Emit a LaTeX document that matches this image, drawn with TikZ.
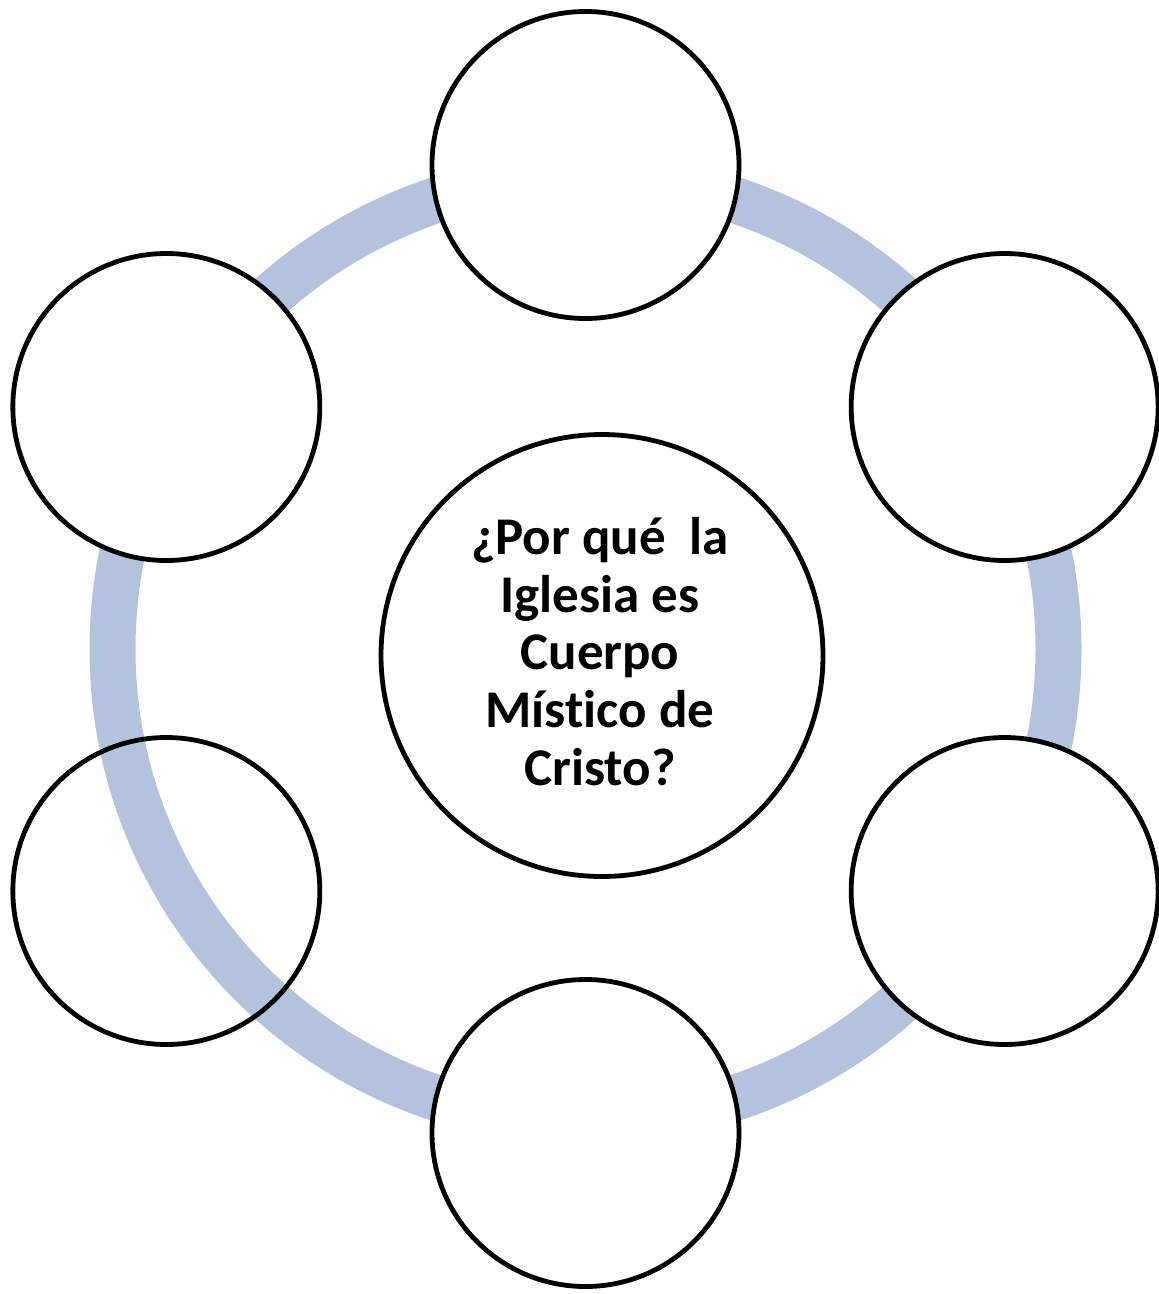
\documentclass[tikz,border=0pt]{standalone}
\usepackage{fontspec}
\setmainfont[Ligatures=NoCommon]{Carlito}
\usetikzlibrary{calc}
\definecolor{ringblue}{RGB}{179,195,222}
\begin{document}
\begin{tikzpicture}[x=1pt,y=1pt,
  ringline/.style={draw=ringblue,line width=46pt},
  outercirc/.style={circle,draw=black,line width=4.8pt,minimum size=307pt,inner sep=0pt},
  centercirc/.style={circle,draw=black,fill=white,line width=4.8pt,minimum size=442pt,inner sep=0pt},
  qtext/.style={anchor=base,inner sep=0pt,font=\fontsize{53}{58}\selectfont\bfseries}
]
\useasboundingbox (0,0) rectangle (1159,-1294);
\coordinate (o) at (585.5,-649);
% ring
\draw[ringline] (o) circle[radius=473];
% outer circles
\node[outercirc,fill=white] (n1) at ($(o)+(90:484)$) {};
\node[outercirc,fill=white] (n2) at ($(o)+(30:484)$) {};
\node[outercirc,fill=white] (n3) at ($(o)+(-30:484)$) {};
\node[outercirc,fill=white] (n4) at ($(o)+(-90:484)$) {};
\node[outercirc] (n5) at ($(o)+(-150:484)$) {};
\node[outercirc,fill=white] (n6) at ($(o)+(150:484)$) {};
% center
\node[centercirc] (c) at (602,-655.5) {};
\node[qtext] (t1) at ($(c.center)+(-2,101)$) {¿Por qué\ \ la};
\node[qtext] (t2) at ($(c.center)+(-2,43.5)$) {Iglesia es};
\node[qtext] (t3) at ($(c.center)+(-2,-14)$) {Cuerpo};
\node[qtext] (t4) at ($(c.center)+(-2,-71.5)$) {Míst\kern0pt ico de};
\node[qtext] (t5) at ($(c.center)+(-2,-129.5)$) {Cristo?};
\end{tikzpicture}
\end{document}
